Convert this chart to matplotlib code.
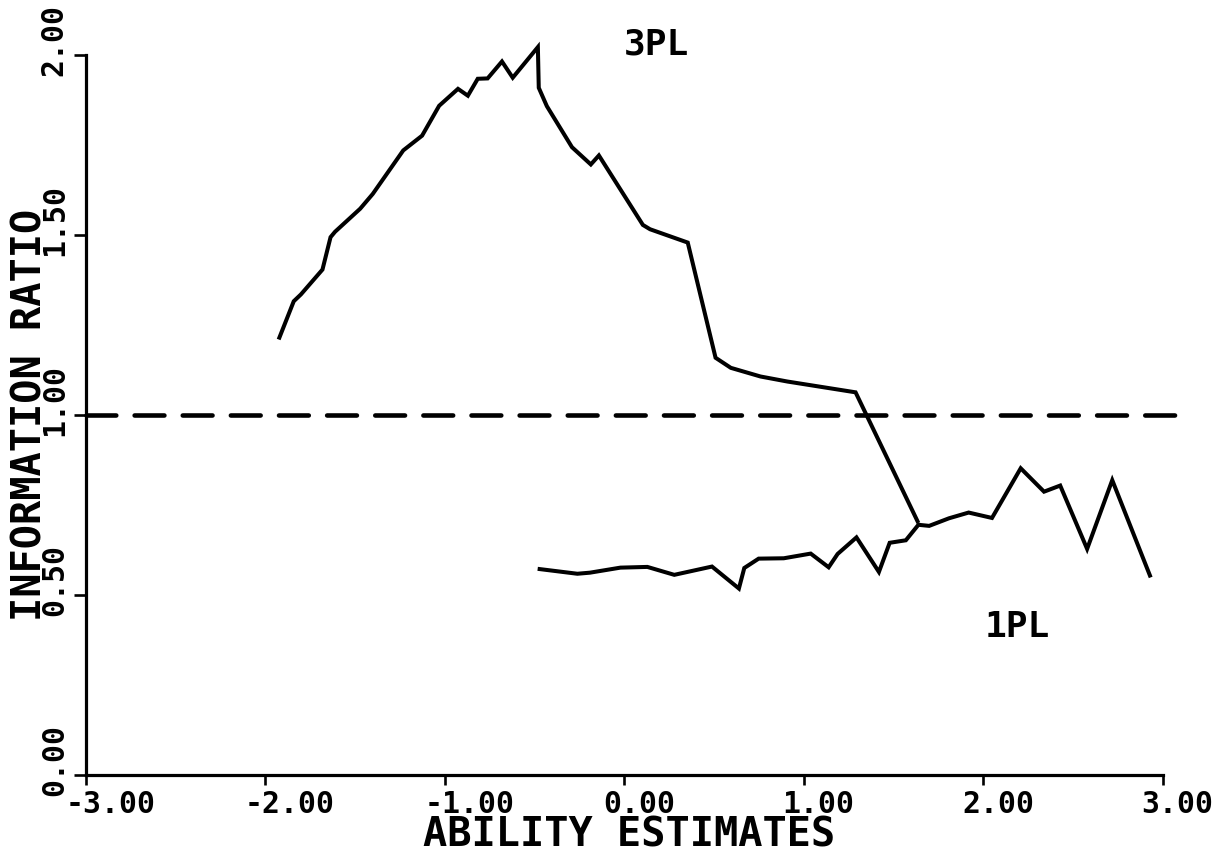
import matplotlib
matplotlib.use("Agg")
import matplotlib.pyplot as plt
from matplotlib.transforms import ScaledTranslation

# ---- data ----
x_3pl = [-1.92, -1.84, -1.80, -1.68, -1.635, -1.61, -1.47, -1.40, -1.23, -1.125,
         -1.03, -0.925, -0.87, -0.815, -0.76, -0.68, -0.62, -0.48, -0.475, -0.43,
         -0.29, -0.185, -0.14, 0.105, 0.145, 0.355, 0.51, 0.595, 0.76, 0.91,
         1.29, 1.635]
y_3pl = [1.215, 1.316, 1.335, 1.404, 1.494, 1.509, 1.573, 1.614, 1.735, 1.776,
         1.859, 1.906, 1.887, 1.934, 1.935, 1.982, 1.937, 2.022, 1.909, 1.858,
         1.744, 1.696, 1.721, 1.528, 1.516, 1.479, 1.159, 1.131, 1.107, 1.093,
         1.063, 0.705]

x_1pl = [-0.47, -0.26, -0.19, -0.02, 0.13, 0.28, 0.49, 0.64, 0.67, 0.75,
         0.89, 1.04, 1.14, 1.19, 1.295, 1.42, 1.48, 1.57, 1.64, 1.70,
         1.81, 1.92, 2.05, 2.21, 2.34, 2.43, 2.58, 2.72, 2.93]
y_1pl = [0.572, 0.559, 0.562, 0.576, 0.578, 0.556, 0.579, 0.518, 0.575, 0.601,
         0.602, 0.615, 0.577, 0.614, 0.660, 0.564, 0.645, 0.652, 0.695, 0.692,
         0.713, 0.729, 0.714, 0.852, 0.787, 0.804, 0.628, 0.819, 0.554]

ref_x = [-3.0, 3.08]
ref_y = [1.0, 1.0]

x_ticks = [-3, -2, -1, 0, 1, 2, 3]
x_tick_labels = ["-3.00", "-2.00", "-1.00", "0.00", "1.00", "2.00", "3.00"]
y_ticks = [0.0, 0.5, 1.0, 1.5, 2.0]
y_tick_labels = ["0.00", "0.50", "1.00", "1.50", "2.00"]

series_labels = ["3PL", "1PL"]
label_pos = [(0.18, 2.03), (2.19, 0.41)]

xlabel = "ABILITY ESTIMATES"
ylabel = "INFORMATION RATIO"

# ---- figure ----
FONT = "DejaVu Sans Mono"
fig = plt.figure(figsize=(12.29, 8.57), dpi=100)
ax = fig.add_axes([0.0696, 0.0957, 0.8763, 0.8401])
ax.set_xlim(-3, 3)
ax.set_ylim(0, 2)

lw = 2.9
ax.plot(x_3pl, y_3pl, color="black", lw=lw, solid_joinstyle="miter", clip_on=False)
ax.plot(x_1pl, y_1pl, color="black", lw=lw, solid_joinstyle="miter", clip_on=False)
ax.plot(ref_x, ref_y, color="black", lw=3.3, linestyle=(0, (6.5, 4.0)),
        dash_capstyle="round", clip_on=False)

for s in ["top", "right"]:
    ax.spines[s].set_visible(False)
for s in ["left", "bottom"]:
    ax.spines[s].set_linewidth(2.3)

ax.set_xticks(x_ticks)
ax.set_xticklabels(x_tick_labels, fontsize=21.5, family=FONT, fontweight="bold")
ax.set_yticks(y_ticks)
ax.set_yticklabels(y_tick_labels, fontsize=21.5, family=FONT, fontweight="bold",
                   rotation=90, va="center", ha="center")
ax.tick_params(axis="x", direction="out", length=7, width=1.9, pad=4)
ax.tick_params(axis="y", direction="out", length=8.5, width=1.9, pad=14)

dpi = fig.dpi
for lab, t in zip(ax.get_xticklabels(), x_tick_labels):
    dx = 25 if t.startswith("-") else 15
    lab.set_transform(lab.get_transform() + ScaledTranslation(dx / dpi, 0, fig.dpi_scale_trans))
for lab in ax.get_yticklabels():
    lab.set_transform(lab.get_transform() + ScaledTranslation(0, 15 / dpi, fig.dpi_scale_trans))

ax.set_xlabel(xlabel, fontsize=29, family=FONT, fontweight="bold", va="center")
ax.xaxis.set_label_coords(0.505, -0.083)
ax.set_ylabel(ylabel, fontsize=29, family=FONT, fontweight="bold", va="center")
ax.yaxis.set_label_coords(-0.052, 0.5)

for txt, (tx, ty) in zip(series_labels, label_pos):
    ax.text(tx, ty, txt, fontsize=26, family=FONT, fontweight="bold",
            ha="center", va="center")

fig.savefig("out.png", dpi=100, facecolor="white")
